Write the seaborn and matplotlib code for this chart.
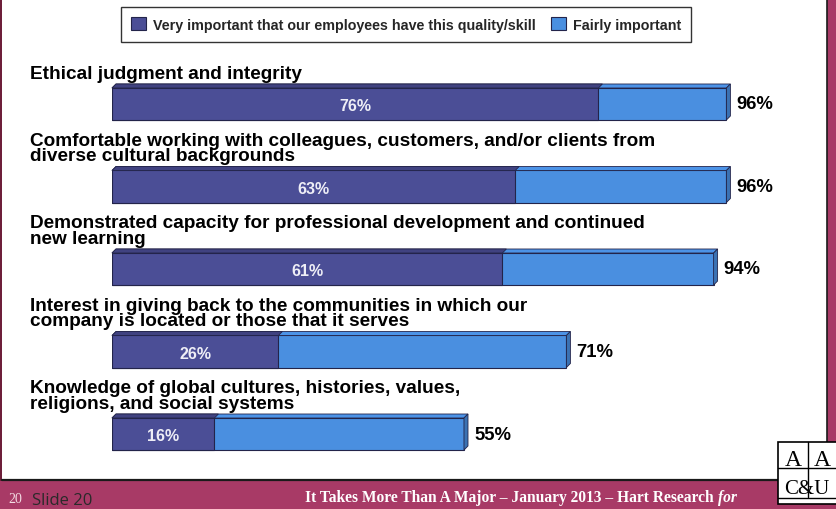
import matplotlib
matplotlib.use("Agg")
import matplotlib.pyplot as plt
from matplotlib.patches import Polygon, Rectangle, Patch
from matplotlib.transforms import IdentityTransform
import matplotlib.colors as mcolors
import pandas as pd
import seaborn as sns

# ---- data -------------------------------------------------------------
categories = [
    "Ethical judgment and integrity",
    "Comfortable working with colleagues, customers, and/or clients from\ndiverse cultural backgrounds",
    "Demonstrated capacity for professional development and continued\nnew learning",
    "Interest in giving back to the communities in which our\ncompany is located or those that it serves",
    "Knowledge of global cultures, histories, values,\nreligions, and social systems",
]
very_important = [76, 63, 61, 26, 16]
total_important = [96, 96, 94, 71, 55]
legend_labels = ["Very important that our employees have this quality/skill",
                 "Fairly important"]
footer_text = "It Takes More Than A Major \u2013 January 2013 \u2013 Hart Research "

# ---- style ------------------------------------------------------------
sns.set_theme(style="white")
plt.rcParams["font.family"] = ["Liberation Sans", "DejaVu Sans"]

DARK = "#4B4E96"
LIGHT = "#4A8FE0"
EDGE = "#23244a"
BAND = "#A83A66"

W, H = 836, 510
fig = plt.figure(figsize=(W / 100, H / 100), dpi=100)
fig.patch.set_facecolor("white")

# plotting area: 0..100 % spans 640 px starting at x=112
ax = fig.add_axes([112 / W, 1 - 470 / H, 640 / W, 400 / H])

df = pd.DataFrame({"item": categories, "very": very_important,
                   "total": total_important})
bar_h = 0.388
sns.barplot(data=df, y="item", x="total", orient="h", color=LIGHT,
            saturation=1, width=bar_h, edgecolor=EDGE, linewidth=0.8, ax=ax)
sns.barplot(data=df, y="item", x="very", orient="h", color=DARK,
            saturation=1, width=bar_h, edgecolor=EDGE, linewidth=0.8, ax=ax)
ax.set_xlim(0, 100)
ax.set_ylim(4.4242, -0.4242)
ax.axis("off")

fig.canvas.draw()

# 3-D bevel: top face on every segment, side face at the right end
dx, dy = 4.0, 4.0
n = len(categories)
light_bars = ax.patches[:n]
dark_bars = ax.patches[n:2 * n]


def shade(c, f):
    r, g, b = mcolors.to_rgb(c)
    return (min(r * f, 1), min(g * f, 1), min(b * f, 1))


for lb, db in zip(light_bars, dark_bars):
    for bar, top_col in ((lb, shade(LIGHT, 1.03)), (db, shade(DARK, 0.85))):
        x0, y0 = bar.get_x(), bar.get_y()
        x1 = x0 + bar.get_width()
        (px0, py_top), (px1, _) = ax.transData.transform([(x0, y0), (x1, y0)])
        top = Polygon([(px0, py_top), (px0 + dx, py_top + dy),
                       (px1 + dx, py_top + dy), (px1, py_top)],
                      closed=True, facecolor=top_col, edgecolor=EDGE,
                      linewidth=0.6, transform=IdentityTransform(), zorder=3)
        fig.patches.append(top)
    # side face on the right end of the full bar
    x0, y0 = lb.get_x(), lb.get_y()
    x1 = x0 + lb.get_width()
    y1 = y0 + lb.get_height()
    (px1, py_top), (_, py_bot) = ax.transData.transform([(x1, y0), (x1, y1)])
    side = Polygon([(px1, py_top), (px1 + dx, py_top + dy),
                    (px1 + dx, py_bot + dy), (px1, py_bot)],
                   closed=True, facecolor=shade(LIGHT, 0.8), edgecolor=EDGE,
                   linewidth=0.6, transform=IdentityTransform(), zorder=3)
    fig.patches.append(side)

# category titles above each bar
for i, label in enumerate(categories):
    ax.annotate(label, xy=(0, i - bar_h / 2), xycoords="data",
                xytext=(-82, 6), textcoords="offset pixels",
                ha="left", va="bottom", fontsize=13.7, fontweight="bold",
                color="black", linespacing=0.9, annotation_clip=False)

# value labels
for i, (v, t) in enumerate(zip(very_important, total_important)):
    ax.text(v / 2, i + 0.02, f"{v}%", ha="center", va="center",
            fontsize=11.5, fontweight="bold", color="#eeeef6", zorder=5)
    ax.annotate(f"{t}%", xy=(t, i), xycoords="data", xytext=(10, 0),
                textcoords="offset pixels", ha="left", va="center",
                fontsize=13.3, fontweight="bold", color="black",
                annotation_clip=False)

# legend box
handles = [Patch(facecolor=DARK, edgecolor=EDGE, linewidth=0.8),
           Patch(facecolor=LIGHT, edgecolor=EDGE, linewidth=0.8)]
leg = fig.legend(handles, legend_labels, loc="upper left",
                 bbox_to_anchor=(121 / W, 1 - 8 / H), ncol=2, frameon=True,
                 fancybox=False, edgecolor="#333333", framealpha=1,
                 prop={"weight": "bold", "size": 10.3},
                 handlelength=1.0, handleheight=1.0, handletextpad=0.5,
                 columnspacing=1.1, borderpad=0.72, borderaxespad=0)
leg.get_frame().set_linewidth(1.0)

# slide frame: thin left rule, right band, bottom band
fig.patches.append(Rectangle((0, 0), 2 / W, 1, transform=fig.transFigure,
                             facecolor="#6d1f3a", edgecolor="none", zorder=1))
fig.patches.append(Rectangle((827 / W, 0), 9 / W, 1, transform=fig.transFigure,
                             facecolor=BAND, edgecolor="none", zorder=1))
fig.patches.append(Rectangle((0, 0), 1, 28 / H, transform=fig.transFigure,
                             facecolor=BAND, edgecolor="none", zorder=1))
fig.add_artist(plt.Line2D([2 / W, 827 / W], [1 - 481 / H, 1 - 481 / H],
                          color="#1a1a1a", linewidth=1.6))
fig.add_artist(plt.Line2D([826.5 / W, 826.5 / W], [1 - 481 / H, 1],
                          color="#1a1a1a", linewidth=1.2))

# footer
fig.text(8 / W, 1 - 503 / H, "20", fontsize=10, color="#f3dbe3",
         family=["Liberation Serif"], ha="left", va="baseline")
fig.text(32 / W, 1 - 509 / H, "Slide 20", fontsize=12, color="#2a2a2a",
         family=["Open Sans"], ha="left", va="bottom")
ft = fig.text(305 / W, 1 - 502 / H, footer_text, fontsize=11.2,
              fontweight="bold", color="white", family=["Liberation Serif"],
              ha="left", va="baseline")
fig.canvas.draw()
bb = ft.get_window_extent()
fig.text(bb.x1 / W, 1 - 502 / H, "for", fontsize=11.2, fontweight="bold",
         style="italic", color="white", family=["Liberation Serif"],
         ha="left", va="baseline")

# AAC&U logo
lx0, ly0, lw, lh = 778, 443, 62, 62
fig.patches.append(Rectangle((lx0 / W, 1 - (ly0 + lh) / H), lw / W, lh / H,
                             transform=fig.transFigure, facecolor="white",
                             edgecolor="black", linewidth=1.2, zorder=4))
fig.add_artist(plt.Line2D([808 / W, 808 / W], [1 - 443 / H, 1 - 498 / H],
                          color="black", linewidth=1.0, zorder=5))
fig.add_artist(plt.Line2D([778 / W, 1], [1 - 469 / H, 1 - 469 / H],
                          color="black", linewidth=1.0, zorder=5))
fig.add_artist(plt.Line2D([778 / W, 1], [1 - 499 / H, 1 - 499 / H],
                          color="black", linewidth=1.0, zorder=5))
for cx, s in ((793, "A"), (822, "A")):
    fig.text(cx / W, 1 - 466 / H, s, fontsize=17, color="black",
             family=["Liberation Serif"], ha="center", va="baseline", zorder=6)
fig.text(807 / W, 1 - 494 / H, "C&U", fontsize=15, color="black",
         family=["Liberation Serif"], ha="center", va="baseline", zorder=6)

fig.savefig("out.png", dpi=100, facecolor="white")
